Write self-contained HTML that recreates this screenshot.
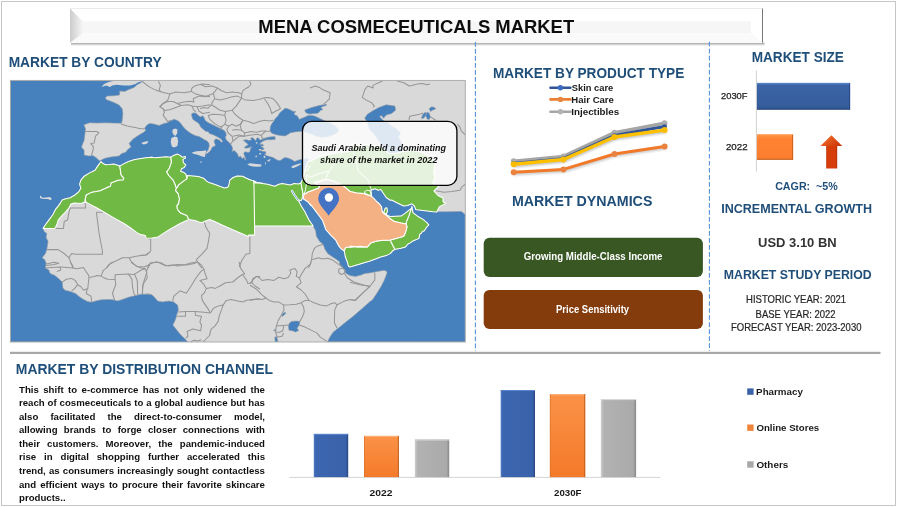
<!DOCTYPE html>
<html lang="en"><head><meta charset="utf-8"><title>MENA Cosmeceuticals Market</title>
<style>
html,body{margin:0;padding:0;background:#fff;}
body{width:898px;height:507px;overflow:hidden;position:relative;font-family:"Liberation Sans",sans-serif;}
svg{position:absolute;left:0;top:0;display:block;}
text{font-family:"Liberation Sans",sans-serif;}
.h{font-weight:bold;fill:#1f4e79;}
.b{font-weight:bold;}
</style></head><body>
<svg width="898" height="507" viewBox="0 0 898 507">
<defs>
<linearGradient id="tb" x1="0" y1="0" x2="0" y2="1"><stop offset="0" stop-color="#ffffff"/><stop offset="0.48" stop-color="#ffffff"/><stop offset="0.52" stop-color="#f8f8f8"/><stop offset="1" stop-color="#f5f5f5"/></linearGradient>
<linearGradient id="tbl" x1="0" y1="0" x2="1" y2="0"><stop offset="0" stop-color="#cccccc"/><stop offset="1" stop-color="#f6f6f6"/></linearGradient>
<linearGradient id="tsh" x1="0" y1="0" x2="0" y2="1"><stop offset="0" stop-color="#9a9a9a"/><stop offset="1" stop-color="#9a9a9a" stop-opacity="0"/></linearGradient>
<clipPath id="mapclip"><rect x="10.4" y="80.4" width="454.9" height="261.6"/></clipPath>
</defs>
<rect x="0" y="0" width="898" height="507" fill="#ffffff"/>
<g opacity="0.999">

<rect x="1.5" y="1.5" width="894" height="504" fill="none" stroke="#c6c6c6" stroke-width="1"/>
<rect x="71" y="42.6" width="693.5" height="3.4" fill="url(#tsh)"/>
<rect x="70" y="8.4" width="693.2" height="34.4" fill="#ffffff"/>
<rect x="83" y="21.4" width="668" height="11.8" fill="#f6f6f6"/>
<polygon points="70,42.8 83,33.2 751,33.2 763,42.8" fill="#fafafa"/>
<polygon points="70,8.4 83,21.4 83,33.2 70,42.8" fill="url(#tbl)"/>
<rect x="70" y="8.2" width="693" height="0.8" fill="#e6e6e6"/>
<rect x="762" y="8.6" width="1" height="34" fill="#777777"/>
<g clip-path="url(#mapclip)" stroke-linejoin="round">
<rect x="10" y="80" width="456" height="263" fill="#d9d9d9"/>
<path d="M10.4 80.4 L143.6 80.8 L139.6 83.4 L136.9 84.7 L134.2 87.4 L128.9 89.4 L124.9 91.4 L119.8 91.0 L119.5 95.0 L113.5 95.8 L107.4 96.1 L105.4 97.4 L106.1 99.4 L112.8 102.1 L118.8 104.8 L122.2 108.8 L122.9 113.5 L122.2 120.2 L121.5 123.2 L113.6 123.1 L105.6 122.8 L97.5 123.1 L89.5 122.8 L83.9 124.8 L85.5 128.8 L84.8 134.9 L84.1 140.2 L81.5 146.9 L84.1 150.3 L84.1 155.0 L88.8 156.0 L92.9 155.6 L96.2 157.7 L98.9 160.3 L99.7 160.8 L101.0 161.5 L97.7 166.1 L95.0 170.2 L89.6 172.9 L84.2 176.2 L80.9 180.2 L79.6 184.2 L80.9 188.3 L78.9 191.6 L74.9 195.0 L70.2 197.7 L64.8 199.0 L62.2 200.0 L58.8 205.4 L55.5 209.4 L52.8 214.7 L48.8 220.1 L45.4 224.8 L43.1 228.4 L44.1 231.5 L46.8 233.5 L46.1 237.5 L48.1 241.6 L47.4 245.6 L46.8 249.6 L45.4 253.6 L42.1 257.7 L44.7 259.7 L46.1 263.0 L45.4 268.0 L48.8 270.0 L50.1 273.4 L54.8 275.4 L58.8 278.8 L62.2 282.1 L62.9 288.1 L64.9 290.2 L70.2 291.5 L75.6 293.5 L79.6 296.9 L83.6 299.5 L87.7 301.6 L91.7 302.2 L95.7 300.9 L101.1 299.8 L107.8 299.5 L113.1 299.8 L117.8 300.9 L123.9 298.9 L129.2 297.1 L135.9 295.5 L141.3 294.2 L150.0 294.2 L146.4 294.0 L152.0 294.8 L155.2 298.0 L157.6 301.1 L162.4 301.9 L168.8 301.1 L173.6 301.9 L177.6 305.1 L178.4 309.9 L176.8 314.7 L176.0 317.9 L174.4 321.9 L172.8 325.1 L176.0 329.1 L179.9 333.9 L184.7 338.7 L187.9 341.9 L10.4 342.0 Z" fill="#4681be" stroke="#8f9aa6" stroke-width="0.6"/>
<path d="M100.2 160.6 L104.9 158.3 L111.0 157.0 L119.0 156.0 L121.7 153.6 L125.7 152.3 L127.7 149.6 L131.1 146.9 L129.1 143.6 L133.1 138.9 L139.1 134.9 L143.8 132.2 L145.8 130.2 L144.5 128.2 L147.2 124.8 L149.8 123.5 L153.9 124.1 L159.2 125.5 L163.9 123.5 L167.3 122.8 L170.6 120.8 L174.0 119.4 L173.4 119.1 L177.4 120.5 L177.7 120.6 L180.3 122.8 L182.6 125.9 L185.2 129.1 L188.4 131.7 L191.9 134.0 L195.5 135.7 L199.1 136.6 L201.7 138.0 L204.4 139.7 L207.1 141.1 L208.9 143.3 L209.3 146.0 L208.4 148.7 L208.3 150.0 L206.3 152.0 L205.6 154.0 L207.6 153.3 L210.3 151.0 L211.5 148.7 L212.4 146.9 L214.2 146.4 L215.5 145.1 L214.6 143.3 L214.2 141.1 L215.1 139.3 L216.9 138.9 L219.5 140.2 L221.8 142.4 L222.7 141.5 L221.3 139.3 L218.7 137.5 L215.1 135.7 L212.4 134.4 L209.3 133.5 L208.4 131.7 L205.7 131.3 L203.5 129.5 L200.8 127.3 L199.5 124.6 L197.7 122.4 L195.0 121.0 L192.8 119.3 L191.9 116.6 L191.5 113.9 L193.7 112.8 L196.4 113.5 L198.6 115.7 L200.8 117.0 L202.6 115.7 L204.0 117.5 L205.3 120.6 L208.0 122.4 L211.5 124.2 L215.1 125.9 L218.7 127.7 L221.8 129.1 L224.4 130.8 L225.8 132.6 L226.2 135.3 L225.3 137.5 L226.2 139.7 L228.5 142.0 L230.7 144.2 L232.0 146.4 L232.6 148.2 L232.1 151.7 L233.9 150.4 L235.7 151.7 L237.9 154.4 L238.4 157.1 L240.6 156.2 L241.9 158.4 L244.2 157.5 L245.0 160.2 L245.9 159.3 L244.6 155.7 L243.7 153.5 L245.0 151.7 L248.2 152.6 L249.9 151.7 L250.4 149.1 L251.7 146.4 L249.1 147.7 L245.9 148.2 L244.2 147.3 L246.4 145.9 L248.2 144.6 L246.4 142.8 L244.2 141.0 L243.3 140.1 L246.4 139.7 L249.1 140.6 L251.7 139.7 L250.4 138.4 L252.6 137.5 L254.4 139.3 L255.7 141.0 L256.6 138.4 L258.0 137.5 L259.3 139.3 L260.6 140.1 L262.4 139.3 L264.2 138.8 L266.9 137.5 L269.5 137.0 L274.9 136.6 L275.3 139.3 L271.3 139.7 L266.9 139.7 L264.2 140.6 L262.4 141.5 L260.6 142.8 L259.7 144.6 L262.4 144.2 L263.8 145.5 L260.6 146.4 L263.3 147.7 L264.2 149.1 L261.5 149.9 L259.7 150.4 L262.4 151.3 L265.5 151.7 L266.0 153.5 L264.2 154.4 L266.9 155.7 L269.5 156.6 L273.1 157.5 L275.8 159.3 L278.5 160.6 L281.1 160.2 L282.9 158.4 L285.6 157.5 L289.1 158.4 L292.7 160.2 L294.5 161.5 L298.1 160.2 L301.6 159.3 L304.3 159.0 L307.0 158.1 L308.7 160.1 L308.0 161.5 L306.0 166.0 L304.5 172.0 L303.0 178.0 L301.0 183.0 L298.3 184.0 L294.2 183.6 L290.2 184.9 L286.2 184.2 L282.2 183.6 L278.8 184.2 L274.8 186.3 L267.4 184.2 L260.7 183.2 L254.0 182.6 L262.6 183.2 L257.3 182.6 L253.9 180.9 L250.6 180.0 L246.5 178.2 L242.5 176.2 L237.2 175.9 L233.1 177.5 L229.8 180.2 L229.1 184.2 L227.8 187.2 L224.4 188.0 L219.7 186.3 L214.4 184.2 L209.0 182.6 L206.3 180.9 L203.6 178.2 L198.3 176.5 L192.9 175.9 L187.5 175.5 L185.9 174.2 L183.5 172.2 L180.6 171.5 L181.5 168.8 L184.2 167.5 L185.9 164.8 L183.5 162.8 L182.9 159.4 L185.5 158.1 L185.1 156.4 L182.2 157.2 L180.2 155.4 L177.5 154.1 L173.5 155.4 L170.8 157.2 L166.1 156.8 L160.7 157.2 L155.4 157.7 L150.0 157.2 L152.6 157.2 L145.9 157.7 L139.2 158.8 L133.9 159.8 L128.5 161.5 L123.1 164.1 L119.8 166.1 L117.8 165.2 L113.7 164.1 L109.7 164.5 L105.7 164.8 L103.0 163.5 L101.0 161.5 Z" fill="#4681be" stroke="#8f9aa6" stroke-width="0.6"/>
<path d="M285.1 108.2 L287.8 108.7 L290.5 110.0 L293.2 111.4 L295.8 111.4 L294.1 113.6 L294.9 114.9 L297.2 115.8 L298.5 118.0 L299.4 119.4 L301.2 118.5 L303.9 117.6 L306.5 116.3 L308.3 115.4 L311.0 115.4 L313.7 115.8 L317.2 117.2 L320.8 118.9 L323.5 120.3 L327.9 122.1 L332.4 124.3 L335.9 126.5 L338.6 129.2 L338.2 131.9 L334.1 134.5 L327.9 136.8 L321.7 137.2 L316.3 136.3 L310.1 133.6 L304.7 131.9 L303.0 131.0 L299.4 131.4 L294.9 131.9 L290.5 132.7 L287.8 134.5 L285.1 135.9 L279.8 135.4 L275.3 134.5 L271.8 133.2 L270.0 131.0 L270.4 126.5 L271.8 123.8 L273.6 121.2 L275.3 118.5 L278.0 115.8 L279.8 112.7 L282.5 110.5 Z" fill="#4681be" stroke="#8f9aa6" stroke-width="0.6"/>
<path d="M304.7 110.0 L308.3 108.7 L311.9 107.4 L315.4 106.5 L319.0 105.6 L323.5 104.7 L326.6 104.2 L326.1 105.6 L322.6 106.5 L320.8 107.8 L323.0 109.6 L320.3 110.5 L318.6 112.7 L316.3 113.6 L313.7 113.6 L310.1 114.0 L307.4 113.6 L305.6 112.3 Z" fill="#4681be" stroke="#8f9aa6" stroke-width="0.6"/>
<path d="M364.7 118.2 L367.4 114.2 L372.8 110.8 L378.8 107.5 L386.2 104.8 L394.9 106.1 L395.6 110.2 L391.6 113.5 L386.2 115.1 L383.5 118.2 L381.5 115.5 L379.5 116.5 L382.2 119.6 L384.2 121.3 L386.5 121.4 L390.6 125.1 L396.6 129.1 L400.6 133.1 L398.6 137.1 L401.6 143.2 L402.6 149.2 L400.6 152.2 L394.6 153.6 L388.6 153.2 L384.5 150.2 L381.5 145.2 L378.5 140.1 L374.5 135.1 L369.4 129.1 L367.4 122.0 Z" fill="#4681be" stroke="#8f9aa6" stroke-width="0.6"/>
<path d="M421.1 118.2 L423.1 114.2 L425.1 112.2 L426.4 112.9 L425.8 115.5 L423.7 118.2 Z" fill="#4681be" stroke="#8f9aa6" stroke-width="0.6"/>
<path d="M425.8 115.5 L427.1 112.2 L429.1 112.9 L430.5 116.9 L429.1 119.6 L427.1 118.9 Z" fill="#4681be" stroke="#8f9aa6" stroke-width="0.6"/>
<path d="M429.1 108.8 L431.8 106.8 L434.5 107.5 L435.8 108.8 L432.5 110.2 L430.5 111.5 Z" fill="#4681be" stroke="#8f9aa6" stroke-width="0.6"/>
<path d="M298.3 200.0 L301.0 205.4 L305.0 212.1 L309.0 220.1 L313.0 225.7 L315.7 230.8 L316.4 236.2 L319.7 241.6 L323.1 244.2 L325.1 249.6 L327.8 253.6 L330.5 255.6 L335.8 259.0 L339.8 261.9 L339.5 263.9 L341.9 266.8 L344.3 270.0 L345.9 273.2 L349.9 275.6 L355.5 276.4 L361.9 274.8 L364.4 273.6 L370.8 272.8 L377.2 271.6 L382.8 270.4 L386.0 270.7 L387.1 272.8 L384.4 279.9 L381.2 286.3 L377.2 292.7 L372.4 299.9 L370.0 301.6 L365.1 305.9 L358.7 311.5 L352.3 317.1 L345.9 321.9 L341.1 325.9 L337.1 329.1 L333.1 332.3 L329.9 337.1 L327.5 341.9 L465.3 342.0 L465.3 214.7 L464.0 213.4 L461.3 211.4 L446.5 211.8 L437.8 211.8 L433.1 211.8 L425.1 210.7 L417.0 209.7 L415.7 209.4 L414.4 206.0 L411.7 203.8 L407.7 205.4 L403.6 206.0 L396.9 202.7 L391.6 200.0 L390.2 200.2 L386.2 197.5 L383.5 193.5 L380.8 189.5 L378.2 190.2 L374.8 188.8 L370.8 190.2 L371.5 194.2 L371.5 196.2 L373.5 198.2 L376.8 201.6 L380.2 204.9 L378.2 202.7 L381.5 206.7 L382.2 211.4 L383.8 212.7 L385.1 208.3 L386.9 207.8 L387.5 211.4 L386.2 214.1 L388.2 215.8 L390.2 216.4 L401.0 216.1 L405.0 213.4 L409.0 210.1 L411.4 208.3 L411.9 206.7 L413.0 212.7 L418.4 216.8 L423.1 219.4 L427.1 222.8 L428.8 224.8 L426.4 227.5 L424.4 230.8 L422.4 231.5 L421.1 233.5 L419.7 234.2 L419.1 238.2 L416.4 239.6 L413.0 240.9 L410.3 242.9 L407.7 244.2 L405.6 246.9 L401.0 248.3 L395.6 249.3 L392.9 250.7 L390.2 253.6 L386.2 255.6 L380.8 257.0 L375.5 259.0 L370.1 261.0 L363.4 263.0 L356.7 265.0 L350.0 267.0 L348.6 266.6 L347.2 261.7 L345.2 256.3 L344.5 251.6 L343.9 250.7 L341.2 248.9 L338.5 245.6 L335.8 240.2 L330.5 234.9 L325.8 229.5 L324.4 225.5 L322.4 220.1 L318.4 214.7 L314.4 209.4 L310.3 204.0 L311.0 205.7 L307.7 201.7 L303.6 199.0 L301.0 199.7 Z" fill="#4681be" stroke="#8f9aa6" stroke-width="0.6"/>
<path d="M289.1 323.5 L291.5 321.4 L296.3 321.1 L299.9 321.4 L299.2 325.1 L297.1 328.3 L298.7 330.4 L295.5 332.0 L292.3 330.7 L289.1 330.4 L288.4 326.7 Z" fill="#4681be" stroke="#8f9aa6" stroke-width="0.6"/>
<path d="M281.2 315.5 L284.4 312.3 L286.0 313.1 L282.8 316.3 Z" fill="#4681be" stroke="#8f9aa6" stroke-width="0.6"/>
<path d="M274.8 337.1 L276.8 336.8 L278.0 341.9 L275.2 341.9 Z" fill="#4681be" stroke="#8f9aa6" stroke-width="0.6"/>
<path d="M273.6 330.4 L275.2 329.1 L275.6 331.0 Z" fill="#4681be" stroke="#8f9aa6" stroke-width="0.6"/>
<path d="M101.4 87.0 L104.1 84.0 L108.8 82.0 L114.1 80.7 L143.6 80.7 L137.6 82.4 L135.6 84.0 L130.2 85.4 L123.5 85.6 L116.8 84.8 L112.1 85.4 L110.1 87.0 L106.1 85.6 Z" fill="#d9d9d9"/>
<path d="M40.0 195.6 L42.7 197.7 L46.0 197.4 L49.4 197.0 L51.8 198.3 L50.7 200.3 L48.0 199.0 L45.4 199.0 L42.0 198.7 L40.0 197.9 Z" fill="#d9d9d9"/>
<path d="M141.1 142.9 L144.5 141.8 L148.5 140.9 L147.2 143.6 L143.8 144.5 Z" fill="#d9d9d9"/>
<path d="M172.7 129.6 L175.4 128.5 L177.4 129.6 L177.2 133.2 L175.4 135.9 L173.4 134.6 L172.3 131.9 Z" fill="#d9d9d9"/>
<path d="M171.4 137.9 L174.7 136.6 L177.4 137.2 L178.1 141.3 L177.4 146.0 L174.1 147.6 L171.8 146.6 L170.7 141.9 Z" fill="#d9d9d9"/>
<path d="M191.5 152.7 L196.2 151.3 L201.6 151.0 L206.3 150.2 L205.6 153.3 L204.9 156.9 L202.2 156.4 L197.5 154.7 L193.5 153.7 Z" fill="#d9d9d9"/>
<path d="M200.3 161.5 L201.6 161.5 L201.6 162.8 L200.3 162.8 Z" fill="#d9d9d9"/>
<path d="M247.3 164.2 L249.9 163.3 L254.4 163.8 L258.9 164.2 L261.5 164.6 L261.1 166.4 L257.1 166.7 L252.6 166.4 L249.1 165.5 Z" fill="#d9d9d9"/>
<path d="M291.4 166.4 L293.6 165.5 L296.3 164.6 L298.9 163.8 L301.4 163.3 L300.7 164.6 L298.1 166.0 L295.4 167.3 L292.7 168.2 L291.6 167.6 Z" fill="#d9d9d9"/>
<path d="M258.9 153.5 L260.6 153.1 L261.5 154.0 L259.7 154.8 Z" fill="#d9d9d9"/>
<path d="M255.3 156.2 L256.6 155.3 L256.9 157.1 L255.7 157.5 Z" fill="#d9d9d9"/>
<path d="M263.3 156.2 L265.1 155.7 L265.5 157.5 L264.2 158.0 Z" fill="#d9d9d9"/>
<path d="M267.3 160.2 L269.5 159.3 L270.9 159.3 L269.1 161.5 L267.8 161.5 Z" fill="#d9d9d9"/>
<path d="M264.9 162.4 L265.8 162.2 L265.8 164.2 L265.1 164.4 Z" fill="#d9d9d9"/>
<path d="M258.9 149.1 L260.6 148.9 L261.5 149.9 L259.3 150.4 Z" fill="#d9d9d9"/>
<path d="M255.7 142.4 L257.2 141.9 L257.6 143.3 L256.2 143.7 Z" fill="#d9d9d9"/>
<path d="M85.5 131.5 L90.8 131.5 L96.9 131.5 L98.9 132.9 L95.5 136.2 L94.2 142.9 L90.8 143.6 L93.5 146.9 L92.9 151.0 L91.5 155.0" fill="none" stroke="#969696" stroke-width="1.05"/>
<path d="M121.0 123.9 L127.0 126.1 L135.1 127.5 L140.5 128.8 L144.5 128.8" fill="none" stroke="#969696" stroke-width="1.05"/>
<path d="M143.0 82.0 L146.3 84.7 L150.3 87.4 L155.7 90.1 L159.7 91.4 L164.4 92.7 L169.8 94.1 L167.8 100.1 L163.1 103.5 L159.7 106.8 L163.1 108.8 L164.4 112.2 L163.1 115.1 L165.8 118.9 L167.8 121.6 L170.5 120.2" fill="none" stroke="#969696" stroke-width="1.05"/>
<path d="M158.4 81.1 L160.4 85.4 L159.1 90.1 L161.1 91.8" fill="none" stroke="#969696" stroke-width="1.05"/>
<path d="M159.7 106.8 L163.1 103.5 L167.8 101.5 L173.1 101.5 L177.2 103.5 L181.2 105.5 L175.8 107.5 L170.5 109.5 L165.1 110.6 L163.1 108.8" fill="none" stroke="#969696" stroke-width="1.05"/>
<path d="M177.2 103.5 L183.9 102.1 L189.9 101.2 L193.9 102.1 L193.2 98.8 L197.3 96.8 L201.3 95.4 L210.0 96.8" fill="none" stroke="#969696" stroke-width="1.05"/>
<path d="M181.2 105.5 L187.9 104.8 L191.9 106.1 L197.3 106.8 L202.6 106.1 L210.0 104.8" fill="none" stroke="#969696" stroke-width="1.05"/>
<path d="M191.9 106.1 L193.9 110.2 L195.9 112.2" fill="none" stroke="#969696" stroke-width="1.05"/>
<path d="M191.9 88.0 L195.9 85.4 L202.6 84.0 L210.0 84.7" fill="none" stroke="#969696" stroke-width="1.05"/>
<path d="M191.9 88.0 L191.2 91.4 L195.9 94.1 L201.3 95.4" fill="none" stroke="#969696" stroke-width="1.05"/>
<path d="M169.8 94.1 L175.8 92.1 L183.9 92.7 L191.2 91.4" fill="none" stroke="#969696" stroke-width="1.05"/>
<path d="M197.3 106.8 L198.6 110.8 L202.6 113.5 L210.0 112.2" fill="none" stroke="#969696" stroke-width="1.05"/>
<path d="M200.0 84.0 L205.4 86.7 L212.1 86.0 L217.4 88.0 L221.5 90.7 L226.8 92.7 L232.2 92.1 L238.9 92.7 L241.6 94.1 L242.9 90.7 L245.6 88.7 L248.9 86.7 L251.0 84.0 L249.6 81.1" fill="none" stroke="#969696" stroke-width="1.05"/>
<path d="M200.0 96.1 L205.4 96.8 L210.1 94.7 L213.4 93.4 L217.4 88.0" fill="none" stroke="#969696" stroke-width="1.05"/>
<path d="M213.4 93.4 L214.7 98.8 L220.1 100.1 L225.5 98.8 L232.2 96.8 L237.5 96.1 L241.6 98.1 L241.6 94.1" fill="none" stroke="#969696" stroke-width="1.05"/>
<path d="M241.6 98.1 L245.6 100.1 L253.6 100.4 L259.0 99.4 L264.4 97.7 L268.4 97.4 L273.1 98.8 L276.4 102.1 L279.1 106.1 L280.5 108.8 L275.1 111.5 L271.7 113.5 L270.4 108.8 L267.7 103.5 L264.4 98.8" fill="none" stroke="#969696" stroke-width="1.05"/>
<path d="M200.0 108.8 L204.0 107.5 L208.0 108.2 L211.4 104.8 L212.7 101.5 L214.7 98.8" fill="none" stroke="#969696" stroke-width="1.05"/>
<path d="M211.4 104.8 L214.7 106.8 L220.1 110.2 L225.5 111.5 L232.2 110.2 L236.2 106.1 L238.9 102.1 L241.6 98.1" fill="none" stroke="#969696" stroke-width="1.05"/>
<path d="M232.2 110.2 L234.9 114.2 L238.9 117.5 L242.9 120.2 L248.3 121.6 L253.6 123.6 L259.0 121.6 L264.4 120.2 L269.7 120.9 L273.1 120.2" fill="none" stroke="#969696" stroke-width="1.05"/>
<path d="M225.5 111.5 L224.8 115.5 L226.1 120.2 L224.8 124.2 L222.1 126.3 L220.1 130.3" fill="none" stroke="#969696" stroke-width="1.05"/>
<path d="M208.0 115.5 L212.7 114.2 L218.8 114.6 L224.8 115.5" fill="none" stroke="#969696" stroke-width="1.05"/>
<path d="M208.0 115.5 L210.1 119.6 L214.7 123.6 L220.1 126.9 L222.1 126.3" fill="none" stroke="#969696" stroke-width="1.05"/>
<path d="M224.8 124.2 L228.8 126.3 L232.2 124.2 L236.2 126.3 L240.2 124.2 L242.9 120.2" fill="none" stroke="#969696" stroke-width="1.05"/>
<path d="M228.8 126.3 L226.8 129.6 L228.2 133.0 L232.2 136.3 L232.9 141.0 L230.2 144.4" fill="none" stroke="#969696" stroke-width="1.05"/>
<path d="M232.2 130.3 L236.2 129.6 L241.6 130.3 L244.9 133.0 L244.2 136.3 L238.9 135.0 L232.9 136.3" fill="none" stroke="#969696" stroke-width="1.05"/>
<path d="M241.6 130.3 L240.2 125.6 L242.9 120.2" fill="none" stroke="#969696" stroke-width="1.05"/>
<path d="M244.9 133.0 L251.0 131.6 L256.3 132.3 L261.7 131.0 L265.7 131.0 L269.7 131.6" fill="none" stroke="#969696" stroke-width="1.05"/>
<path d="M232.9 141.0 L238.9 136.3 L244.2 136.3 L251.0 135.0 L257.7 134.3 L261.0 135.6 L263.0 133.6 L265.7 131.0" fill="none" stroke="#969696" stroke-width="1.05"/>
<path d="M261.0 135.6 L262.3 138.3 L265.7 138.3" fill="none" stroke="#969696" stroke-width="1.05"/>
<path d="M310.0 88.0 L315.4 86.0 L319.4 87.4 L323.4 90.1 L330.1 92.7 L329.4 98.8 L326.1 102.1 L323.4 104.1" fill="none" stroke="#969696" stroke-width="1.05"/>
<path d="M430.0 84.0 L426.7 84.7 L422.6 83.4 L417.3 84.0 L411.9 85.4 L409.2 86.0 L403.9 82.7 L397.2 81.1" fill="none" stroke="#969696" stroke-width="1.05"/>
<path d="M382.4 81.1 L377.0 83.4 L373.0 85.4 L373.0 88.0 L367.7 86.0 L365.0 89.4 L363.6 93.4 L362.3 97.4 L366.3 100.1 L371.7 102.8 L374.4 106.1 L373.0 107.5" fill="none" stroke="#969696" stroke-width="1.05"/>
<path d="M85.0 202.0 L85.6 208.0 L70.2 208.0 L68.9 212.7 L67.5 220.1 L64.2 221.5 L63.5 228.4 L54.8 228.4" fill="none" stroke="#969696" stroke-width="1.05"/>
<path d="M96.4 212.3 L103.5 212.3" fill="none" stroke="#969696" stroke-width="1.05"/>
<path d="M96.4 212.3 L99.1 233.5 L102.4 251.0 L102.4 254.3 L75.6 254.3 L71.6 253.6 L68.9 257.7" fill="none" stroke="#969696" stroke-width="1.05"/>
<path d="M46.8 249.6 L58.2 249.6 L63.5 253.0 L68.9 257.7 L71.6 264.4 L72.9 268.0" fill="none" stroke="#969696" stroke-width="1.05"/>
<path d="M150.0 252.3 L145.3 255.0 L135.9 256.3 L129.2 257.7 L122.5 257.7 L115.8 261.0 L109.1 264.4 L106.4 268.0" fill="none" stroke="#969696" stroke-width="1.05"/>
<path d="M129.2 257.7 L131.9 263.0 L137.3 266.4 L144.0 267.0 L150.0 264.4" fill="none" stroke="#969696" stroke-width="1.05"/>
<path d="M46.1 264.1 L54.1 262.3 L58.8 263.3 L54.1 264.4 L46.1 265.4" fill="none" stroke="#969696" stroke-width="1.05"/>
<path d="M204.4 222.1 L205.7 226.8 L209.7 233.5 L208.4 241.6 L207.0 248.3 L201.7 254.3 L196.3 259.7 L199.0 264.4 L201.7 268.0" fill="none" stroke="#969696" stroke-width="1.05"/>
<path d="M148.0 268.0 L150.1 263.7 L156.1 261.9 L161.5 263.0 L165.5 265.7 L172.2 265.0 L177.5 266.0 L185.6 264.4 L191.0 263.0 L196.3 261.9" fill="none" stroke="#969696" stroke-width="1.05"/>
<path d="M145.4 238.2 L150.7 238.9 L150.7 251.0 L146.7 255.0 L140.0 255.2" fill="none" stroke="#969696" stroke-width="1.05"/>
<path d="M249.9 236.5 L249.9 253.6 L245.9 254.3 L241.9 260.3 L239.2 267.0" fill="none" stroke="#969696" stroke-width="1.05"/>
<path d="M254.0 235.1 L254.6 225.5" fill="none" stroke="#969696" stroke-width="1.05"/>
<path d="M323.1 244.2 L317.0 246.3 L314.4 248.3 L312.3 253.6 L311.7 259.0 L310.3 264.4 L308.3 268.0" fill="none" stroke="#969696" stroke-width="1.05"/>
<path d="M312.3 259.7 L318.4 257.7 L322.4 259.0 L327.8 258.3 L333.1 260.3 L338.5 264.4 L342.5 267.0" fill="none" stroke="#969696" stroke-width="1.05"/>
<path d="M62.2 282.1 L66.2 279.2 L71.6 278.4 L75.6 280.8 L77.6 284.8 L74.9 288.1 L71.6 291.2" fill="none" stroke="#969696" stroke-width="1.05"/>
<path d="M77.6 284.8 L81.0 286.8 L83.6 290.2 L87.0 288.8 L86.3 293.5 L91.0 296.2 L91.7 302.0" fill="none" stroke="#969696" stroke-width="1.05"/>
<path d="M45.4 268.0 L51.5 267.4 L60.2 267.1 L60.8 270.0 L56.8 271.4" fill="none" stroke="#969696" stroke-width="1.05"/>
<path d="M60.2 267.1 L67.5 267.6 L72.9 268.0 L76.9 268.7 L83.6 267.6 L86.3 272.1 L88.3 274.7 L89.0 277.4 L88.3 283.5 L87.7 289.5" fill="none" stroke="#969696" stroke-width="1.05"/>
<path d="M89.0 277.4 L94.4 276.5 L97.0 275.4 L101.1 276.1 L103.1 277.4 L107.8 279.2 L115.1 279.4 L115.8 284.8 L113.8 289.5 L112.5 293.5 L114.5 299.8" fill="none" stroke="#969696" stroke-width="1.05"/>
<path d="M70.2 262.0 L72.9 266.0 L72.9 268.0" fill="none" stroke="#969696" stroke-width="1.05"/>
<path d="M101.1 276.1 L103.1 270.7 L107.1 267.4 L110.5 263.3 L113.1 262.0" fill="none" stroke="#969696" stroke-width="1.05"/>
<path d="M115.1 279.4 L115.1 274.7 L128.6 274.1 L131.9 279.4 L132.6 287.5 L133.9 293.5 L135.3 295.5" fill="none" stroke="#969696" stroke-width="1.05"/>
<path d="M128.6 274.1 L133.9 274.7 L134.6 274.1 L137.3 280.8 L137.7 294.9" fill="none" stroke="#969696" stroke-width="1.05"/>
<path d="M134.6 274.1 L141.3 270.0 L145.3 268.7 L146.7 272.7 L144.0 280.8 L142.6 287.5 L142.4 294.2" fill="none" stroke="#969696" stroke-width="1.05"/>
<path d="M131.9 262.0 L135.9 266.0 L141.3 268.0 L145.3 268.7" fill="none" stroke="#969696" stroke-width="1.05"/>
<path d="M147.3 266.0 L150.0 264.0" fill="none" stroke="#969696" stroke-width="1.05"/>
<path d="M142.4 294.0 L142.9 284.4 L147.2 278.0 L146.4 271.6 L148.8 265.2 L151.2 262.0" fill="none" stroke="#969696" stroke-width="1.05"/>
<path d="M151.2 262.8 L157.6 262.0 L162.4 264.4 L168.8 266.0 L176.8 264.4 L186.3 264.9 L194.3 263.6 L197.5 262.0" fill="none" stroke="#969696" stroke-width="1.05"/>
<path d="M172.8 301.1 L173.6 296.4 L179.9 290.8 L186.3 293.2 L191.1 286.0 L195.9 278.0 L200.7 271.6 L203.9 269.2 L201.5 265.2 L197.5 262.0" fill="none" stroke="#969696" stroke-width="1.05"/>
<path d="M203.9 269.2 L205.5 274.8 L207.1 278.8 L199.9 280.4 L203.9 284.4 L206.3 288.4 L204.7 292.4 L201.5 295.6 L202.3 300.4 L205.5 305.1 L208.7 309.9 L210.3 313.1" fill="none" stroke="#969696" stroke-width="1.05"/>
<path d="M178.4 311.9 L185.5 311.5 L195.1 311.5 L203.9 312.3 L210.3 313.1" fill="none" stroke="#969696" stroke-width="1.05"/>
<path d="M185.5 311.9 L185.5 316.3 L177.1 316.3" fill="none" stroke="#969696" stroke-width="1.05"/>
<path d="M195.1 311.9 L195.6 315.5 L201.5 316.3 L199.9 321.9 L201.5 325.1 L200.7 330.7 L192.7 329.1 L187.1 331.5 L187.9 336.3 L185.5 338.4" fill="none" stroke="#969696" stroke-width="1.05"/>
<path d="M210.3 313.1 L213.5 308.3 L218.3 305.9 L223.1 305.1 L221.5 309.9 L219.1 316.3 L218.3 321.1 L215.1 325.9 L211.1 329.1 L209.5 335.5 L205.5 339.5 L203.1 341.9" fill="none" stroke="#969696" stroke-width="1.05"/>
<path d="M201.5 339.8 L197.5 341.1 L194.3 340.3 L190.3 341.9" fill="none" stroke="#969696" stroke-width="1.05"/>
<path d="M206.3 288.4 L211.9 287.6 L215.1 288.4 L219.9 286.0 L225.5 282.8 L232.7 282.0 L237.5 278.0 L242.3 274.5 L246.3 279.6 L247.9 283.6 L251.9 282.8 L255.1 286.0 L260.0 289.2" fill="none" stroke="#969696" stroke-width="1.05"/>
<path d="M223.1 305.1 L226.3 300.4 L231.1 299.6 L237.5 301.1 L243.9 301.9 L245.5 300.4 L251.9 299.6 L260.0 298.8" fill="none" stroke="#969696" stroke-width="1.05"/>
<path d="M239.1 262.0 L240.7 268.4 L244.7 274.0 L242.3 274.5" fill="none" stroke="#969696" stroke-width="1.05"/>
<path d="M251.9 282.8 L252.7 278.8 L256.7 276.4 L260.0 276.4" fill="none" stroke="#969696" stroke-width="1.05"/>
<path d="M250.0 283.6 L253.2 279.6 L256.4 276.4 L259.6 278.0 L262.0 280.4 L267.6 279.6 L274.0 280.4 L278.8 277.2 L284.4 278.8 L288.4 277.2 L290.7 273.2 L289.9 270.0 L294.7 268.4 L297.1 271.6 L296.3 276.4 L299.5 278.0 L301.1 274.8 L305.1 268.4 L309.1 265.2 L311.5 262.0" fill="none" stroke="#969696" stroke-width="1.05"/>
<path d="M299.5 278.0 L301.1 282.8 L296.3 286.8 L301.1 290.0 L305.1 294.0 L307.5 298.0 L309.1 300.4" fill="none" stroke="#969696" stroke-width="1.05"/>
<path d="M250.0 285.2 L256.4 289.2 L262.0 294.8 L266.0 298.0 L269.2 300.4 L274.0 301.9 L278.8 301.9 L283.6 305.1 L289.9 304.8 L296.3 304.3 L301.1 302.7 L305.1 300.4 L309.1 300.4" fill="none" stroke="#969696" stroke-width="1.05"/>
<path d="M250.0 300.4 L256.4 299.1 L262.0 299.6 L266.0 298.0" fill="none" stroke="#969696" stroke-width="1.05"/>
<path d="M309.1 300.4 L313.9 302.7 L320.3 305.1 L326.7 305.9 L331.5 303.5 L334.7 302.7 L337.1 304.8" fill="none" stroke="#969696" stroke-width="1.05"/>
<path d="M337.1 304.8 L334.7 309.9 L334.4 322.7 L337.1 328.3" fill="none" stroke="#969696" stroke-width="1.05"/>
<path d="M337.1 304.8 L344.3 301.1 L350.7 299.6 L355.5 300.4 L361.9 294.0 L370.0 286.0" fill="none" stroke="#969696" stroke-width="1.05"/>
<path d="M344.3 273.2 L347.5 278.0 L353.9 282.0 L361.9 284.4 L370.0 286.8" fill="none" stroke="#969696" stroke-width="1.05"/>
<path d="M338.7 269.2 L342.7 268.1 L345.1 270.0 L344.3 273.2 L341.1 274.5 L338.7 272.4 L338.7 269.2" fill="none" stroke="#969696" stroke-width="1.05"/>
<path d="M283.6 305.1 L283.9 309.9 L281.2 315.5 L278.0 321.1 L276.4 325.9 L282.0 325.6 L289.1 325.1" fill="none" stroke="#969696" stroke-width="1.05"/>
<path d="M301.1 302.7 L303.5 306.7 L304.3 311.5 L302.7 316.3 L299.9 321.4" fill="none" stroke="#969696" stroke-width="1.05"/>
<path d="M299.2 325.1 L304.3 326.7 L310.7 329.9 L317.1 333.1 L320.3 337.1 L326.7 341.1" fill="none" stroke="#969696" stroke-width="1.05"/>
<path d="M276.4 325.9 L275.6 332.3 L279.6 332.3 L282.8 330.7 L283.6 325.9" fill="none" stroke="#969696" stroke-width="1.05"/>
<path d="M275.6 332.3 L277.2 337.1 L282.0 336.3 L283.6 333.1" fill="none" stroke="#969696" stroke-width="1.05"/>
<path d="M374.8 272.8 L374.8 279.9 L370.0 286.3 L361.2 294.3 L354.8 300.4 L350.0 299.4" fill="none" stroke="#969696" stroke-width="1.05"/>
<path d="M350.0 282.3 L359.6 284.7 L370.0 286.3" fill="none" stroke="#969696" stroke-width="1.05"/>
<path d="M435.8 190.8 L443.9 192.2 L451.9 191.5 L459.9 190.2 L462.0 186.8 L465.3 184.1" fill="none" stroke="#969696" stroke-width="1.05"/>
<path d="M409.0 120.2 L409.7 116.2 L419.7 114.2 L423.1 112.9" fill="none" stroke="#969696" stroke-width="1.05"/>
<path d="M430.5 116.9 L435.8 120.2" fill="none" stroke="#969696" stroke-width="1.05"/>
<path d="M457.3 124.2 L459.9 126.9 L461.3 131.0 L464.0 133.6 L465.3 135.0" fill="none" stroke="#969696" stroke-width="1.05"/>
<path d="M101.0 161.5 L97.7 166.1 L95.0 170.2 L89.6 172.9 L84.2 176.2 L80.9 180.2 L79.6 184.2 L80.9 188.3 L78.9 191.6 L74.9 195.0 L70.2 197.7 L64.8 199.0 L62.2 200.0 L58.8 205.4 L55.5 209.4 L52.8 214.7 L48.8 220.1 L45.4 224.8 L43.1 228.4 L54.8 228.4 L56.8 224.8 L58.2 220.1 L62.2 215.4 L65.5 212.1 L68.9 208.0 L70.9 204.0 L74.2 202.9 L81.0 203.4 L85.0 202.0 L85.2 200.0 L85.3 202.3 L85.3 199.0 L86.3 195.0 L91.0 192.6 L96.3 191.6 L100.3 190.7 L105.7 188.3 L110.4 186.3 L111.1 182.9 L115.1 181.6 L118.4 180.2 L123.1 180.0 L123.8 178.2 L121.1 174.9 L120.5 170.8 L119.8 166.1 L117.8 165.2 L113.7 164.1 L109.7 164.5 L105.7 164.8 L103.0 163.5 L101.0 161.5 Z" fill="#70b944" stroke="#ffffff" stroke-width="1.05"/>
<path d="M119.8 166.1 L123.1 164.1 L128.5 161.5 L133.9 159.8 L139.2 158.8 L145.9 157.7 L152.6 157.2 L150.0 157.2 L155.4 157.7 L160.7 157.2 L166.1 156.8 L170.8 157.2 L171.5 162.1 L169.4 168.2 L166.8 171.9 L168.8 175.5 L172.8 179.6 L174.8 183.6 L176.5 188.3 L175.5 190.3 L178.2 193.6 L179.5 199.0 L178.4 204.4 L178.9 202.7 L176.9 206.0 L177.5 209.4 L180.2 212.7 L186.9 215.4 L188.9 219.4 L180.2 223.5 L170.8 228.8 L164.1 232.9 L158.1 236.9 L152.1 237.9 L146.0 238.2 L145.4 235.5 L140.0 234.2 L137.3 232.9 L131.9 228.8 L123.9 223.5 L113.1 217.4 L105.1 212.7 L97.0 208.0 L86.3 202.4 L85.2 200.0 L85.3 202.3 L85.3 199.0 L86.3 195.0 L91.0 192.6 L96.3 191.6 L100.3 190.7 L105.7 188.3 L110.4 186.3 L111.1 182.9 L115.1 181.6 L118.4 180.2 L123.1 180.0 L123.8 178.2 L121.1 174.9 L120.5 170.8 L119.8 166.1 Z" fill="#70b944" stroke="#ffffff" stroke-width="1.05"/>
<path d="M170.8 157.2 L173.5 155.4 L177.5 154.1 L180.2 155.4 L182.2 157.2 L185.1 156.4 L185.5 158.1 L182.9 159.4 L183.5 162.8 L185.9 164.8 L184.2 167.5 L181.5 168.8 L180.6 171.5 L183.5 172.2 L185.9 174.2 L186.9 178.9 L182.9 181.6 L178.8 184.9 L176.5 188.3 L174.8 183.6 L172.8 179.6 L168.8 175.5 L166.8 171.9 L169.4 168.2 L171.5 162.1 L170.8 157.2 Z" fill="#70b944" stroke="#ffffff" stroke-width="1.05"/>
<path d="M187.5 175.5 L192.9 175.9 L198.3 176.5 L203.6 178.2 L206.3 180.9 L209.0 182.6 L214.4 184.2 L219.7 186.3 L224.4 188.0 L227.8 187.2 L229.1 184.2 L229.8 180.2 L233.1 177.5 L237.2 175.9 L242.5 176.2 L246.5 178.2 L250.6 180.0 L253.9 180.9 L254.6 187.0 L254.6 235.1 L248.6 235.1 L248.3 236.5 L243.2 234.2 L233.9 230.2 L223.1 225.5 L215.1 221.7 L209.7 219.4 L204.4 221.5 L201.7 222.8 L199.0 222.1 L195.0 220.4 L188.9 219.4 L186.9 215.4 L180.2 212.7 L177.5 209.4 L176.9 206.0 L178.9 202.7 L178.4 204.4 L179.5 199.0 L178.2 193.6 L175.5 190.3 L178.8 184.9 L182.9 181.6 L186.9 178.9 L187.5 175.5 Z" fill="#70b944" stroke="#ffffff" stroke-width="1.05"/>
<path d="M253.9 180.9 L253.9 180.9 L257.3 182.6 L262.6 183.2 L254.0 182.6 L260.7 183.2 L267.4 184.2 L274.8 186.3 L278.8 184.2 L282.2 183.6 L286.2 184.2 L290.2 184.9 L294.2 183.6 L298.3 184.0 L301.0 182.9 L302.0 188.3 L303.0 193.6 L302.0 199.0 L301.0 200.6 L298.3 200.0 L301.0 205.4 L305.0 212.1 L309.0 220.1 L313.0 225.7 L313.0 226.0 L254.6 226.0 Z" fill="#70b944" stroke="#ffffff" stroke-width="1.05"/>
<path d="M343.9 250.7 L345.9 247.2 L351.9 246.9 L359.9 246.3 L366.7 246.9 L350.0 246.3 L358.0 246.9 L367.4 246.9 L370.8 242.9 L376.8 240.9 L383.5 240.2 L390.2 240.0 L392.9 245.6 L394.9 249.3 L392.9 250.7 L390.2 253.6 L386.2 255.6 L380.8 257.0 L375.5 259.0 L370.1 261.0 L363.4 263.0 L356.7 265.0 L350.0 267.0 L348.6 266.6 L347.2 261.7 L345.2 256.3 L344.5 251.6 L343.9 250.7 Z" fill="#70b944" stroke="#ffffff" stroke-width="1.05"/>
<path d="M395.6 249.3 L401.0 248.3 L405.6 246.9 L407.7 244.2 L410.3 242.9 L413.0 240.9 L416.4 239.6 L419.1 238.2 L419.7 234.2 L421.1 233.5 L422.4 231.5 L424.4 230.8 L426.4 227.5 L428.8 224.8 L427.1 222.8 L423.1 219.4 L418.4 216.8 L413.0 212.7 L411.9 206.7 L411.0 209.4 L409.0 215.4 L406.3 222.1 L406.0 224.1 L407.0 226.8 L405.6 232.2 L403.6 236.2 L396.9 238.2 L390.2 240.0 L392.9 245.6 L394.9 249.3 Z" fill="#70b944" stroke="#ffffff" stroke-width="1.05"/>
<path d="M388.2 215.8 L390.2 216.4 L401.0 216.1 L405.0 213.4 L409.0 210.1 L411.4 208.3 L411.9 206.7 L411.0 209.4 L409.0 215.4 L406.3 222.1 L406.0 224.1 L401.0 223.1 L394.2 221.5 L390.2 218.8 L386.2 215.4 L383.5 213.4 L382.2 211.4 Z" fill="#70b944" stroke="#ffffff" stroke-width="1.05"/>
<path d="M383.8 212.7 L385.1 208.3 L386.9 207.8 L387.5 211.4 L386.2 214.1 Z" fill="#70b944" stroke="#ffffff" stroke-width="1.05"/>
<path d="M301.0 183.0 L303.0 178.0 L304.5 172.0 L306.0 166.0 L308.0 161.5 L310.1 161.3 L320.2 156.2 L330.2 154.2 L342.3 152.2 L350.0 151.5 L352.0 147.0 L353.5 143.5 L360.0 146.0 L366.0 144.5 L372.0 146.0 L381.5 145.2 L384.5 150.2 L388.6 153.2 L394.6 153.6 L400.6 152.2 L405.0 151.5 L411.0 150.5 L418.7 151.2 L426.8 155.2 L430.8 158.2 L434.8 163.3 L433.8 171.3 L434.8 177.3 L432.8 183.0 L438.7 186.4 L433.9 190.8 L437.9 195.5 L443.0 197.9 L443.0 201.8 L445.8 203.4 L439.5 206.6 L436.7 212.1 L433.1 211.8 L425.1 210.7 L417.0 209.7 L415.7 209.4 L414.4 206.0 L411.7 203.8 L407.7 205.4 L403.6 206.0 L396.9 202.7 L391.6 200.0 L390.2 200.2 L386.2 197.5 L383.5 193.5 L380.8 189.5 L378.2 190.2 L374.8 188.8 L370.8 190.2 L371.5 194.2 L371.5 196.2 L371.5 196.2 L368.8 195.5 L363.4 193.5 L356.7 192.9 L350.0 191.5 L343.9 186.3 L339.5 184.0 L331.5 180.5 L325.5 179.5 L314.5 182.5 L319.7 186.3 L318.4 188.3 L313.0 190.3 L307.7 192.3 L303.6 195.0 L303.0 193.6 L302.0 188.3 Z" fill="#70b944" stroke="#ffffff" stroke-width="1.05"/>
<path d="M303.6 195.0 L307.7 192.3 L313.0 190.3 L318.4 188.3 L319.7 186.3 L314.5 182.5 L325.5 179.5 L331.5 180.5 L339.5 184.0 L343.9 186.3 L350.0 191.5 L356.7 192.9 L363.4 193.5 L368.8 195.5 L371.5 196.2 L373.5 198.2 L376.8 201.6 L380.2 204.9 L378.2 202.7 L381.5 206.7 L382.2 211.4 L383.5 213.4 L386.2 215.4 L390.2 218.8 L394.2 221.5 L401.0 223.1 L406.0 224.1 L407.0 226.8 L405.6 232.2 L403.6 236.2 L396.9 238.2 L390.2 240.0 L383.5 240.2 L376.8 240.9 L370.8 242.9 L367.4 246.9 L358.0 246.9 L350.0 246.3 L366.7 246.9 L359.9 246.3 L351.9 246.9 L345.9 247.2 L343.9 250.7 L341.2 248.9 L338.5 245.6 L335.8 240.2 L330.5 234.9 L325.8 229.5 L324.4 225.5 L322.4 220.1 L318.4 214.7 L314.4 209.4 L310.3 204.0 L311.0 205.7 L307.7 201.7 L303.6 199.0 Z" fill="#f4b183" stroke="#ffffff" stroke-width="1.05"/>
<path d="M291.9 190.9 L294.2 194.6 L296.4 197.8 L298.3 200.3" fill="none" stroke="#ffffff" stroke-width="2.2" stroke-linecap="round"/>
<path d="M291.9 190.9 L294.2 194.6 L296.4 197.8 L298.3 200.3" fill="none" stroke="#6f9fd6" stroke-width="1.0" stroke-linecap="round"/>
<path d="M303.5 193.8 L303.0 196.2 L302.5 198.6" fill="none" stroke="#dfe9f5" stroke-width="1.1"/>
<path d="M353.5 143.5 L352.0 150.0 L355.0 156.0 L357.0 165.4 L358.0 170.7 L362.1 174.7 L367.4 178.8 L369.4 183.5 L370.1 186.8 L371.5 190.2" fill="none" stroke="#ffffff" stroke-width="0.95"/>
<path d="M342.3 152.2 L337.0 160.0 L333.0 166.0 L329.0 171.0 L325.5 179.5" fill="none" stroke="#ffffff" stroke-width="0.95"/>
<path d="M329.0 171.0 L318.0 174.0 L311.0 177.0 L306.5 175.0" fill="none" stroke="#ffffff" stroke-width="0.95"/>
<path d="M306.5 175.0 L306.5 183.0 L305.5 190.0 L303.6 195.0" fill="none" stroke="#ffffff" stroke-width="0.95"/>
<path d="M304.8 171.0 L308.0 170.0 L310.0 166.5 L306.0 166.0" fill="none" stroke="#ffffff" stroke-width="0.95"/>
<path d="M364.1 192.2 L366.8 190.2 L370.1 190.8 L371.2 195.1 L368.8 195.1 L366.1 193.5 L364.1 192.2" fill="none" stroke="#ffffff" stroke-width="0.95"/>
</g>
<rect x="10.4" y="80.4" width="454.9" height="261.6" fill="none" stroke="#a9a9a9" stroke-width="0.9"/>
<rect x="302.5" y="121.4" width="154.4" height="63.9" rx="9" ry="9" fill="#ffffff" fill-opacity="0.82" stroke="#000000" stroke-width="1.3"/>
<path d="M314.6 184.6 L320.5 182.2 L326.9 180.6 L333 181.8 L339.6 184.6 Z" fill="#ededed"/>
<path d="M328.7 215.8 C325.6 210.6 318.2 204.8 318.2 198.3 A10.45 10.45 0 1 1 339.1 198.3 C339.1 204.8 331.8 210.6 328.7 215.8 Z" fill="#4472c4"/>
<circle cx="328.9" cy="197.5" r="4.15" fill="#ffffff"/>
<text x="311.59" y="151.0" font-size="8.8" font-weight="bold" font-style="italic" fill="#111111" textLength="134.45" lengthAdjust="spacingAndGlyphs">Saudi Arabia held a dominating</text>
<text x="320.11" y="163.0" font-size="8.8" font-weight="bold" font-style="italic" fill="#111111" textLength="117.36" lengthAdjust="spacingAndGlyphs">share of the market in 2022</text>
<text x="258.36" y="32.5" font-size="18.0" font-weight="bold" font-style="normal" fill="#0d0d0d" textLength="315.82" lengthAdjust="spacingAndGlyphs">MENA COSMECEUTICALS MARKET</text>
<text x="8.67" y="67.4" font-size="14.5" font-weight="bold" font-style="normal" fill="#1f4e79" textLength="152.96" lengthAdjust="spacingAndGlyphs">MARKET BY COUNTRY</text>
<text x="492.98" y="77.7" font-size="14.4" font-weight="bold" font-style="normal" fill="#1f4e79" textLength="191.34" lengthAdjust="spacingAndGlyphs">MARKET BY PRODUCT TYPE</text>
<text x="511.94" y="205.6" font-size="14.2" font-weight="bold" font-style="normal" fill="#1f4e79" textLength="140.41" lengthAdjust="spacingAndGlyphs">MARKET DYNAMICS</text>
<text x="751.68" y="61.8" font-size="14.6" font-weight="bold" font-style="normal" fill="#1f4e79" textLength="92.27" lengthAdjust="spacingAndGlyphs">MARKET SIZE</text>
<text x="721.15" y="213.3" font-size="13.3" font-weight="bold" font-style="normal" fill="#1f4e79" textLength="150.90" lengthAdjust="spacingAndGlyphs">INCREMENTAL GROWTH</text>
<text x="758.12" y="246.8" font-size="13.3" font-weight="bold" font-style="normal" fill="#333333" textLength="78.56" lengthAdjust="spacingAndGlyphs">USD 3.10 BN</text>
<text x="723.77" y="279.2" font-size="13.2" font-weight="bold" font-style="normal" fill="#1f4e79" textLength="147.96" lengthAdjust="spacingAndGlyphs">MARKET STUDY PERIOD</text>
<text x="746.12" y="303.0" font-size="10.2" font-weight="normal" font-style="normal" fill="#262626" textLength="99.94" lengthAdjust="spacingAndGlyphs" stroke="#262626" stroke-width="0.2">HISTORIC YEAR: 2021</text>
<text x="755.62" y="317.5" font-size="10.2" font-weight="normal" font-style="normal" fill="#262626" textLength="80.05" lengthAdjust="spacingAndGlyphs" stroke="#262626" stroke-width="0.2">BASE YEAR: 2022</text>
<text x="731.02" y="331.4" font-size="10.2" font-weight="normal" font-style="normal" fill="#262626" textLength="130.44" lengthAdjust="spacingAndGlyphs" stroke="#262626" stroke-width="0.2">FORECAST YEAR: 2023-2030</text>
<text x="775.17" y="189.8" font-size="11.0" font-weight="bold" font-style="normal" fill="#1f4e79" textLength="62.62" lengthAdjust="spacingAndGlyphs" xml:space="preserve">CAGR:  ~5%</text>
<text x="15.86" y="374.0" font-size="14.8" font-weight="bold" font-style="normal" fill="#1f4e79" textLength="257.08" lengthAdjust="spacingAndGlyphs">MARKET BY DISTRIBUTION CHANNEL</text>
<line x1="475.4" y1="42" x2="475.4" y2="351" stroke="#5591d9" stroke-width="1.1" stroke-dasharray="4.7 2.312"/>
<line x1="709.4" y1="41.7" x2="709.4" y2="351" stroke="#5591d9" stroke-width="1.1" stroke-dasharray="4.7 2.312"/>
<rect x="10" y="351.8" width="870.5" height="2.2" fill="#a8a8a8"/>
<defs><filter id="ls" x="-10%" y="-30%" width="120%" height="160%"><feGaussianBlur stdDeviation="0.9"/></filter></defs>
<polyline points="514.3,165.8 564.0,161.1 615.1,138.6 665.2,131.7" fill="none" stroke="#555555" stroke-width="3.2" stroke-linecap="round" stroke-linejoin="round" opacity="0.35" filter="url(#ls)"/>
<polyline points="514.3,173.9 564.0,171.0 615.1,155.6 665.2,148.0" fill="none" stroke="#555555" stroke-width="3.0" stroke-linecap="round" stroke-linejoin="round" opacity="0.30" filter="url(#ls)"/>
<polyline points="513.7,161.1 563.4,156.4 614.5,132.6 664.6,123.1" fill="none" stroke="#a5a5a5" stroke-width="3.4" stroke-linecap="round" stroke-linejoin="round"/>
<circle cx="513.7" cy="161.1" r="2.9" fill="#adadad"/>
<circle cx="563.4" cy="156.4" r="2.9" fill="#adadad"/>
<circle cx="614.5" cy="132.6" r="2.9" fill="#adadad"/>
<circle cx="664.6" cy="123.1" r="2.9" fill="#adadad"/>
<polyline points="513.7,163.4 563.4,158.7 614.5,135.6 664.6,126.6" fill="none" stroke="#2f5597" stroke-width="3.0" stroke-linecap="round" stroke-linejoin="round"/>
<circle cx="513.7" cy="163.4" r="2.4" fill="#2f5597"/>
<circle cx="563.4" cy="158.7" r="2.4" fill="#2f5597"/>
<circle cx="614.5" cy="135.6" r="2.4" fill="#2f5597"/>
<circle cx="664.6" cy="126.6" r="2.4" fill="#2f5597"/>
<polyline points="513.7,164.2 563.4,159.5 614.5,137.0 664.6,130.1" fill="none" stroke="#ffc000" stroke-width="3.4" stroke-linecap="round" stroke-linejoin="round"/>
<circle cx="513.7" cy="164.2" r="3.0" fill="#fabd00"/>
<circle cx="563.4" cy="159.5" r="3.0" fill="#fabd00"/>
<circle cx="614.5" cy="137.0" r="3.0" fill="#fabd00"/>
<circle cx="664.6" cy="130.1" r="3.0" fill="#fabd00"/>
<polyline points="513.7,172.3 563.4,169.4 614.5,154.0 664.6,146.4" fill="none" stroke="#f07a2a" stroke-width="3.0" stroke-linecap="round" stroke-linejoin="round"/>
<circle cx="513.7" cy="172.3" r="3.0" fill="#ea8340"/>
<circle cx="563.4" cy="169.4" r="3.0" fill="#ea8340"/>
<circle cx="614.5" cy="154.0" r="3.0" fill="#ea8340"/>
<circle cx="664.6" cy="146.4" r="3.0" fill="#ea8340"/>
<line x1="550.5" y1="87.7" x2="570.4" y2="87.7" stroke="#2f5597" stroke-width="2.6" stroke-linecap="round"/>
<circle cx="560.4" cy="87.7" r="2.7" fill="#3d6bc0"/>
<text x="571.74" y="90.5" font-size="8.8" font-weight="bold" font-style="normal" fill="#1a1a1a" textLength="41.46" lengthAdjust="spacingAndGlyphs">Skin care</text>
<line x1="550.5" y1="99.4" x2="570.4" y2="99.4" stroke="#ed7d31" stroke-width="2.6" stroke-linecap="round"/>
<circle cx="560.4" cy="99.4" r="2.7" fill="#e8853f"/>
<text x="571.35" y="102.5" font-size="8.8" font-weight="bold" font-style="normal" fill="#1a1a1a" textLength="42.58" lengthAdjust="spacingAndGlyphs">Hair Care</text>
<line x1="550.5" y1="111.8" x2="570.4" y2="111.8" stroke="#a5a5a5" stroke-width="2.6" stroke-linecap="round"/>
<circle cx="560.4" cy="111.8" r="2.7" fill="#b3b3b3"/>
<text x="571.34" y="115.3" font-size="8.8" font-weight="bold" font-style="normal" fill="#1a1a1a" textLength="47.86" lengthAdjust="spacingAndGlyphs">Injectibles</text>
<rect x="483.7" y="237.8" width="219.2" height="39.1" rx="5.8" fill="#385723"/>
<rect x="483.7" y="289.9" width="219.2" height="39.1" rx="5.8" fill="#843c0c"/>
<text x="523.71" y="260.0" font-size="10.1" font-weight="bold" font-style="normal" fill="#ffffff" textLength="138.81" lengthAdjust="spacingAndGlyphs">Growing Middle-Class Income</text>
<text x="556.06" y="312.9" font-size="10.1" font-weight="bold" font-style="normal" fill="#ffffff" textLength="73.10" lengthAdjust="spacingAndGlyphs">Price Sensitivity</text>
<line x1="756.4" y1="70.5" x2="756.4" y2="171.5" stroke="#d2d2d2" stroke-width="1"/>
<defs><linearGradient id="gb" x1="0" y1="0" x2="0" y2="1"><stop offset="0" stop-color="#5d8fd6"/><stop offset="0.09" stop-color="#3a64a6"/><stop offset="0.9" stop-color="#355d9c"/><stop offset="1" stop-color="#25437a"/></linearGradient><linearGradient id="go" x1="0" y1="0" x2="0" y2="1"><stop offset="0" stop-color="#ff9a50"/><stop offset="0.12" stop-color="#ff8a3c"/><stop offset="0.2" stop-color="#ff8232"/><stop offset="0.92" stop-color="#fc7e2e"/><stop offset="1" stop-color="#c0601c"/></linearGradient><linearGradient id="ga" x1="0" y1="0" x2="1" y2="0"><stop offset="0" stop-color="#b83208"/><stop offset="0.12" stop-color="#d83e0a"/><stop offset="0.85" stop-color="#d63c08"/><stop offset="1" stop-color="#a82c06"/></linearGradient><linearGradient id="gah" x1="0" y1="0" x2="1" y2="0.6"><stop offset="0" stop-color="#f4803a"/><stop offset="0.5" stop-color="#e4581c"/><stop offset="1" stop-color="#cc3a0a"/></linearGradient><linearGradient id="vb" x1="0" y1="0" x2="1" y2="0"><stop offset="0" stop-color="#5079c4"/><stop offset="0.06" stop-color="#3c66b0"/><stop offset="0.93" stop-color="#3a62aa"/><stop offset="1" stop-color="#27457f"/></linearGradient><linearGradient id="vo" x1="0" y1="0" x2="0" y2="1"><stop offset="0" stop-color="#fb9248"/><stop offset="1" stop-color="#f47a2a"/></linearGradient><linearGradient id="vg" x1="0" y1="0" x2="1" y2="0"><stop offset="0" stop-color="#d0d0d0"/><stop offset="0.08" stop-color="#b2b2b2"/><stop offset="0.92" stop-color="#aaaaaa"/><stop offset="1" stop-color="#868686"/></linearGradient></defs>
<rect x="756.9" y="82.8" width="93.2" height="27" fill="url(#gb)"/>
<rect x="849.2" y="83.4" width="0.9" height="26.4" fill="#27457f"/>
<rect x="756.9" y="134.2" width="36.2" height="25.7" fill="url(#go)"/>
<rect x="792.2" y="134.8" width="0.9" height="25.1" fill="#c0601f"/>
<rect x="826.2" y="145.5" width="11" height="23" fill="url(#ga)"/>
<polygon points="831.4,135.2 842.3,146.1 820.4,146.1" fill="url(#gah)"/>
<text x="721.03" y="98.9" font-size="8.5" font-weight="normal" font-style="normal" fill="#222222" textLength="26.42" lengthAdjust="spacingAndGlyphs" stroke="#222222" stroke-width="0.25">2030F</text>
<text x="725.91" y="150.1" font-size="8.5" font-weight="normal" font-style="normal" fill="#222222" textLength="21.67" lengthAdjust="spacingAndGlyphs" stroke="#222222" stroke-width="0.25">2022</text>
<line x1="289.5" y1="477.4" x2="660.5" y2="477.4" stroke="#d4d4d4" stroke-width="1"/>
<rect x="313.8" y="433.9" width="34.4" height="43.2" fill="url(#vb)"/>
<rect x="313.8" y="433.9" width="34.4" height="1" fill="#5b86d0"/>
<rect x="364.0" y="435.9" width="34.8" height="41.2" fill="url(#vo)"/>
<rect x="364.0" y="435.9" width="34.8" height="1" fill="#ffb27a"/>
<rect x="397.9" y="435.9" width="0.9" height="41.2" fill="#b85a1c"/>
<rect x="364.0" y="435.9" width="0.7" height="41.2" fill="#d8742e"/>
<rect x="414.8" y="439.4" width="34.4" height="37.7" fill="url(#vg)"/>
<rect x="414.8" y="439.4" width="34.4" height="1.1" fill="#d8d8d8"/>
<rect x="500.7" y="390.0" width="34.3" height="87.1" fill="url(#vb)"/>
<rect x="500.7" y="390.0" width="34.3" height="1" fill="#5b86d0"/>
<rect x="549.9" y="394.2" width="35.3" height="82.9" fill="url(#vo)"/>
<rect x="549.9" y="394.2" width="35.3" height="1" fill="#ffb27a"/>
<rect x="584.3" y="394.2" width="0.9" height="82.9" fill="#b85a1c"/>
<rect x="549.9" y="394.2" width="0.7" height="82.9" fill="#d8742e"/>
<rect x="600.8" y="399.0" width="35.3" height="78.1" fill="url(#vg)"/>
<rect x="600.8" y="399.0" width="35.3" height="1.1" fill="#d8d8d8"/>
<text x="369.64" y="496.0" font-size="9.2" font-weight="bold" font-style="normal" fill="#1a1a1a" textLength="22.97" lengthAdjust="spacingAndGlyphs">2022</text>
<text x="554.06" y="496.0" font-size="9.2" font-weight="bold" font-style="normal" fill="#1a1a1a" textLength="27.48" lengthAdjust="spacingAndGlyphs">2030F</text>
<rect x="747.2" y="388.4" width="6.4" height="6.4" fill="#3a62aa"/>
<text x="756.14" y="394.9" font-size="9.4" font-weight="bold" font-style="normal" fill="#1a1a1a" textLength="46.72" lengthAdjust="spacingAndGlyphs">Pharmacy</text>
<rect x="747.2" y="424.5" width="6.4" height="6.4" fill="#f0843a"/>
<text x="756.41" y="431.0" font-size="9.4" font-weight="bold" font-style="normal" fill="#1a1a1a" textLength="62.79" lengthAdjust="spacingAndGlyphs">Online Stores</text>
<rect x="747.2" y="461.3" width="6.4" height="6.4" fill="#a8a8a8"/>
<text x="756.41" y="467.8" font-size="9.4" font-weight="bold" font-style="normal" fill="#1a1a1a" textLength="31.80" lengthAdjust="spacingAndGlyphs">Others</text>
<text transform="translate(19.0,392.80) scale(1.015,1)" font-size="9.5" font-weight="bold" fill="#111111" word-spacing="1.750">This shift to e-commerce has not only widened the</text>
<text transform="translate(19.0,406.33) scale(1.015,1)" font-size="9.5" font-weight="bold" fill="#111111" word-spacing="0.227">reach of cosmeceuticals to a global audience but has</text>
<text transform="translate(19.0,419.86) scale(1.015,1)" font-size="9.5" font-weight="bold" fill="#111111" word-spacing="9.303">also facilitated the direct-to-consumer model,</text>
<text transform="translate(19.0,433.39) scale(1.015,1)" font-size="9.5" font-weight="bold" fill="#111111" word-spacing="3.566">allowing brands to forge closer connections with</text>
<text transform="translate(19.0,446.92) scale(1.015,1)" font-size="9.5" font-weight="bold" fill="#111111" word-spacing="4.417">their customers. Moreover, the pandemic-induced</text>
<text transform="translate(19.0,460.45) scale(1.015,1)" font-size="9.5" font-weight="bold" fill="#111111" word-spacing="5.146">rise in digital shopping further accelerated this</text>
<text transform="translate(19.0,473.98) scale(1.015,1)" font-size="9.5" font-weight="bold" fill="#111111" word-spacing="0.469">trend, as consumers increasingly sought contactless</text>
<text transform="translate(19.0,487.51) scale(1.015,1)" font-size="9.5" font-weight="bold" fill="#111111" word-spacing="1.390">and efficient ways to procure their favorite skincare</text>
<text transform="translate(19.0,501.04) scale(1.015,1)" font-size="9.5" font-weight="bold" fill="#111111" word-spacing="0.000">products..</text>
</g></svg></body></html>
